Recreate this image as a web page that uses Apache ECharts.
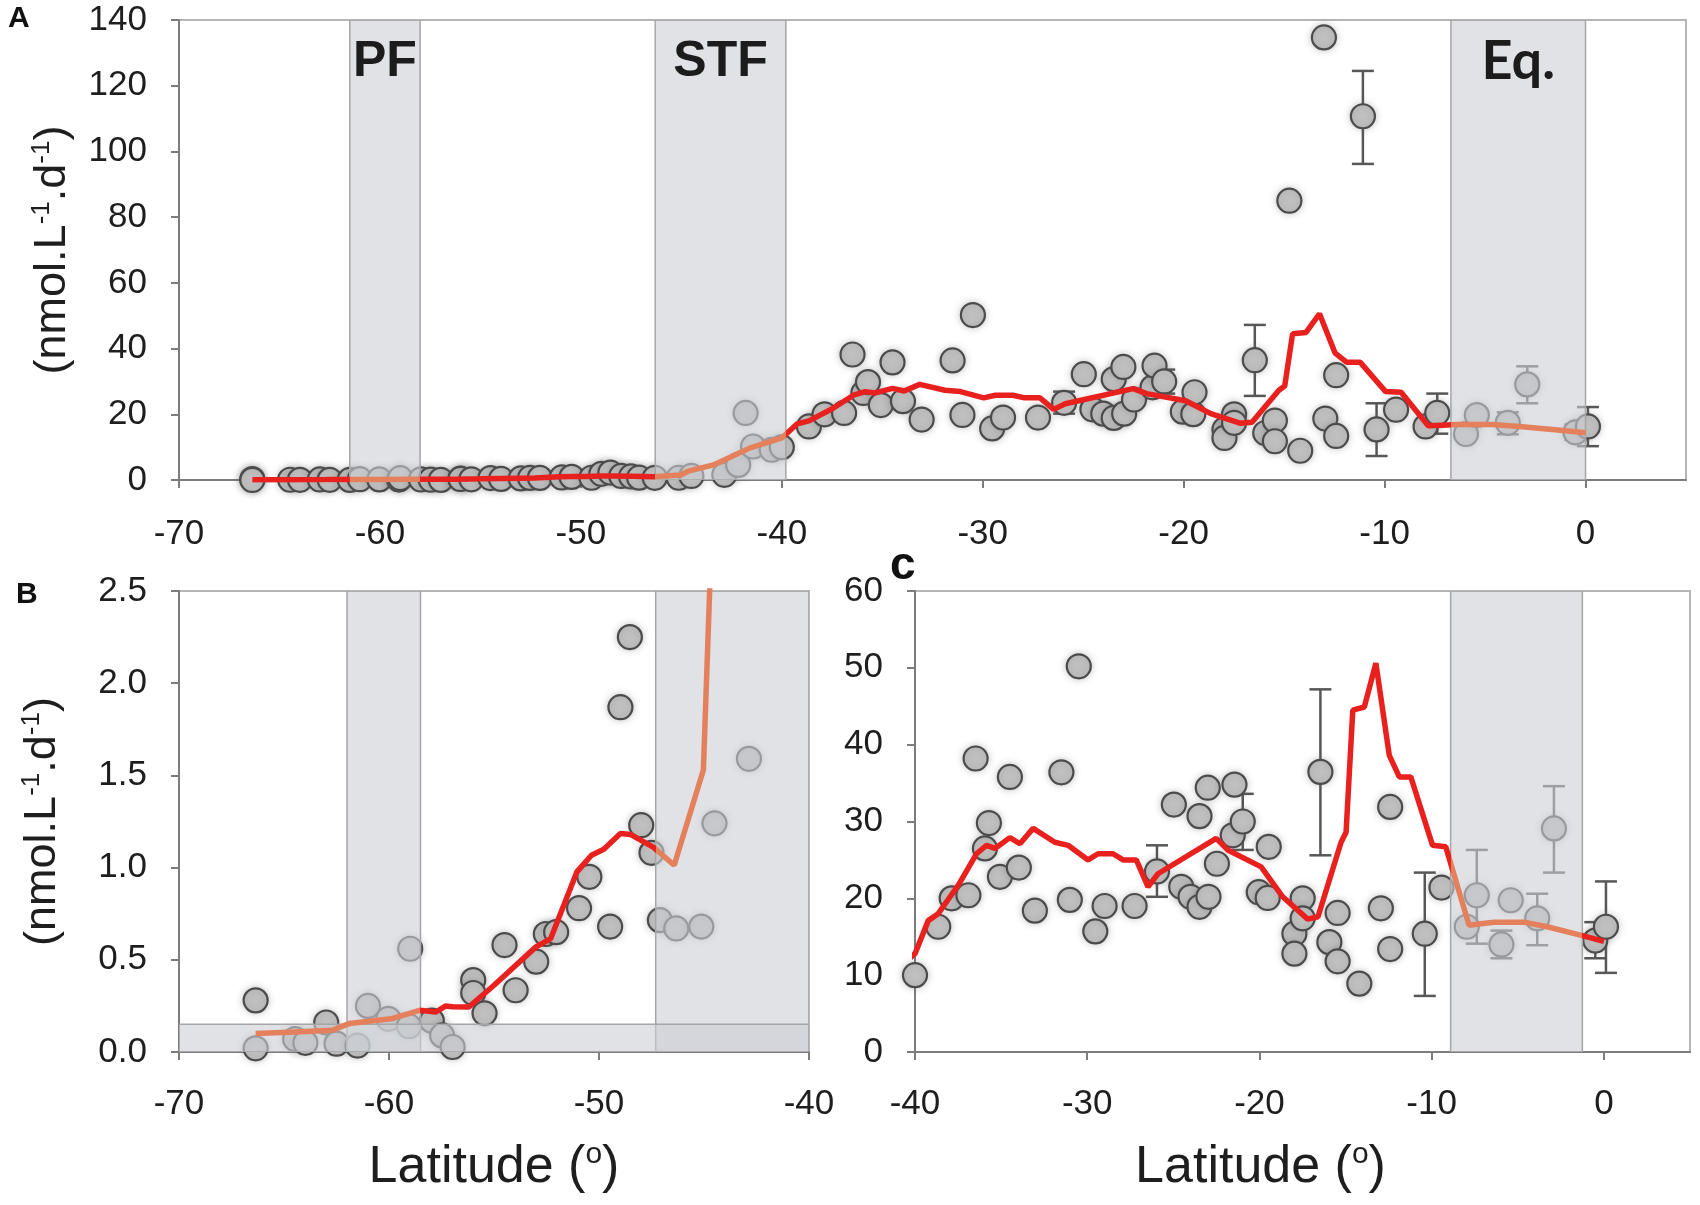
<!DOCTYPE html>
<html lang="en">
<head>
	<meta charset="utf-8">
	<title>Latitude profile</title>
	<script src="https://cdn.jsdelivr.net/npm/echarts@6/dist/echarts.min.js"></script>
	<style>
		html, body { margin: 0; padding: 0; background: #fff; }
		#chart { width: 1700px; height: 1205px; }
	</style>
</head>
<body>
<div id="chart"></div>
<script>
// measured rates (nmol.L-1.d-1) against latitude
var pointLat = [-66.35, -66.35, -64.47, -63.98, -62.99, -62.5, -61.5, -61.0, -60.03, -59.05,
	-58.99, -57.96, -57.47, -56.97, -55.99, -55.99, -55.45, -54.5, -53.97, -52.99,
	-52.53, -52.04, -50.95, -50.46, -49.47, -48.98, -48.53, -47.99, -47.5, -47.1,
	-46.32, -45.13, -44.5, -42.86, -42.17, -41.8, -41.43, -40.5, -40.0,
	-38.65, -37.87, -36.9, -36.48, -35.94, -35.71, -35.07, -34.49, -33.97, -33.04,
	-31.5, -31.01, -30.49, -29.53, -28.99, -27.25, -25.95, -24.97, -24.54, -24.0,
	-23.48, -23.48, -23.0, -22.96, -22.47, -21.55, -21.45, -20.97, -20.04, -19.52,
	-19.46, -17.97, -17.97, -17.49, -17.49, -16.46, -15.94, -15.46, -15.46, -14.74,
	-14.2, -13.02, -12.95, -12.41, -12.41, -11.08, -10.4, -9.43, -7.96, -7.38,
	-5.95, -5.41, -3.87, -2.9, -0.5, 0.12];
var pointRate = [0.28, 0.02, 0.07, 0.05, 0.16, 0.045, 0.035, 0.25, 0.18, 0.14,
	0.56, 0.17, 0.09, 0.027, 0.39, 0.32, 0.21, 0.58, 0.335, 0.49,
	0.64, 0.65, 0.78, 0.95, 0.68, 1.87, 2.25, 1.23, 1.08, 0.715,
	0.67, 0.68, 1.24, 1.59, 4.6, 20.4, 10.2, 9.2, 10.0,
	16.3, 20.0, 20.4, 38.2, 26.5, 29.8, 22.8, 35.8, 24.0, 18.4,
	36.4, 19.8, 50.2, 15.7, 19.0, 19.0, 23.5, 32.2, 21.5, 20.2,
	18.9, 30.7, 34.4, 20.2, 24.5, 28.2, 34.8, 30.0, 20.8, 20.05,
	26.7, 15.4, 12.8, 20.0, 17.4, 36.46, 14.3, 18.1, 11.8, 85.0,
	8.9, 134.7, 18.7, 31.9, 13.4, 110.7, 15.4, 21.4, 16.3, 20.4,
	14.0, 19.75, 17.4, 29.1, 14.5, 16.3];

// error bars
var errLat = [-25.95, -20.97, -16.46, -11.08, -10.4, -7.38, -5.95, -3.87, -2.9, -0.5, 0.12];
var errLow = [20.2, 26.3, 25.6, 96.2, 7.3, 14.1, 12.2, 13.9, 23.35, 12.2, 10.3];
var errHigh = [26.9, 33.6, 47.2, 124.5, 23.35, 26.3, 15.8, 20.6, 34.6, 16.9, 22.2];

// running mean
var meanLat = [-66.35, -64.5, -62.7, -61.9, -59.9, -58.55, -57.76, -57.3, -56.97, -56.2,
	-55.0, -53.0, -52.3, -51.05, -50.36, -49.77, -48.98, -48.5, -47.4, -46.42,
	-45.03, -44.7, -43.4, -41.6, -40.0, -39.23, -38.65, -37.49, -36.43, -35.85,
	-35.36, -34.49, -33.91, -33.14, -31.88, -31.11, -29.95, -29.37, -28.5, -27.92,
	-27.15, -26.47, -25.89, -22.51, -21.84, -19.9, -18.65, -17.2, -16.6, -15.26,
	-14.97, -14.58, -13.91, -13.24, -12.46, -11.88, -11.21, -9.95, -9.18, -7.83,
	-7.15, -6.38, -4.64, -3.29, -1.25, -1.16, 0.0];
var meanRate = [0.10, 0.108, 0.118, 0.154, 0.18, 0.226, 0.217, 0.25, 0.245, 0.244,
	0.362, 0.57, 0.615, 0.977, 1.067, 1.10, 1.185, 1.18, 1.11, 1.013,
	1.529, 2.6, 4.6, 9.7, 12.8, 17.1, 18.0, 21.7, 25.8, 26.9,
	26.5, 27.9, 27.1, 29.1, 27.3, 26.9, 25.0, 25.8, 25.8, 25.0,
	25.0, 21.5, 23.2, 27.8, 26.3, 24.1, 20.2, 17.3, 17.6, 27.3,
	28.6, 44.5, 44.9, 50.6, 38.6, 35.8, 35.8, 26.9, 26.7, 16.5,
	16.7, 16.9, 16.9, 16.3, 15.15, 15.1, 14.4];

// frontal zones [lat from, lat to, rate from, rate to]
var bandsA = [[-61.5, -58, 0, 140], [-46.3, -39.8, 0, 140], [-6.7, 0, 0, 140]];
var bandNamesA = ['PF', 'STF', 'Eq.'];
var bandsB = [[-62, -58.5, 0, 2.5], [-47.3, -40, 0, 2.5], [-70, -40, 0, 0.15]];
var bandsC = [[-8.9, -1.25, 0, 60]];

// where the mean line runs under a shaded zone
var shadeA = [[-61.5, -58], [-46.3, -39.8], [-6.7, 0]];
var shadeB = [[-70, -58.5], [-47.3, -40]];
var shadeC = [[-8.9, -1.25]];

// ticks
var latTicksA = [-70, -60, -50, -40, -30, -20, -10, 0];
var latTicksB = [-70, -60, -50, -40];
var latTicksC = [-40, -30, -20, -10, 0];
var rateTicksA = [0, 20, 40, 60, 80, 100, 120, 140];
var rateTicksB = [0, 0.5, 1.0, 1.5, 2.0, 2.5];
var rateTicksC = [0, 10, 20, 30, 40, 50, 60];

var RED = '#e8201e';
var SALMON = '#e4805c';
var FONT = 'Liberation Sans, Arial, sans-serif';

var chart = echarts.init(document.getElementById('chart'));

var points = pointLat.map(function (x, i) { return [x, pointRate[i]]; });
var errors = errLat.map(function (x, i) { return [x, errLow[i], errHigh[i]]; });
var mean = meanLat.map(function (x, i) { return [x, meanRate[i]]; });

function sections(ranges) {
	var pieces = [], prev = -1000;
	ranges.forEach(function (r) {
		pieces.push({ gt: prev, lte: r[0], color: RED });
		pieces.push({ gt: r[0], lte: r[1], color: SALMON });
		prev = r[1];
	});
	pieces.push({ gt: prev, lte: 1000, color: RED });
	return pieces;
}

function xAxisOf(grid, min, max, ticks, margin, name, namePad) {
	return {
		gridIndex: grid, type: 'value', min: min, max: max, interval: 10,
		axisLine: { show: true, onZero: false, lineStyle: { color: '#7c7c7c', width: 2 } },
		axisTick: { show: true, inside: false, length: 8, lineStyle: { color: '#7c7c7c', width: 2 }, customValues: ticks },
		axisLabel: { fontSize: 35, fontFamily: FONT, color: '#1e1e1e', margin: margin, customValues: ticks },
		splitLine: { show: false },
		name: name, nameLocation: 'middle', nameGap: 88,
		nameTextStyle: {
			fontSize: 52, fontFamily: FONT, color: '#1e1e1e', lineHeight: 56, padding: namePad,
			rich: { s: { fontSize: 30, fontFamily: FONT, color: '#1e1e1e', verticalAlign: 'top', lineHeight: 30 } }
		}
	};
}

function yAxisOf(grid, max, interval, ticks, digits, name, gap) {
	return {
		gridIndex: grid, type: 'value', min: 0, max: max, interval: interval,
		axisLine: { show: true, onZero: false, lineStyle: { color: '#7c7c7c', width: 2 } },
		axisTick: { show: true, inside: false, length: 8, lineStyle: { color: '#7c7c7c', width: 2 }, customValues: ticks },
		axisLabel: {
			fontSize: 35, fontFamily: FONT, color: '#1e1e1e', margin: 32, customValues: ticks,
			formatter: function (v) { return v.toFixed(digits); }
		},
		splitLine: { show: false },
		name: name, nameLocation: 'middle', nameRotate: 90, nameGap: gap,
		nameTextStyle: {
			fontSize: 45, fontFamily: FONT, color: '#1e1e1e', lineHeight: 48,
			rich: { s: { fontSize: 26, fontFamily: FONT, color: '#1e1e1e', verticalAlign: 'top', lineHeight: 26 } }
		}
	};
}

function bandRender(names) {
	return function (params, api) {
		var p0 = api.coord([api.value(0), api.value(3)]);
		var p1 = api.coord([api.value(1), api.value(2)]);
		var kids = [{
			type: 'rect',
			shape: { x: p0[0], y: p0[1], width: p1[0] - p0[0], height: p1[1] - p0[1] },
			style: { fill: 'rgba(204,206,211,0.6)', stroke: '#a6a6a6', lineWidth: 1.5 }
		}];
		var name = names ? names[params.dataIndex] : null;
		if (name) {
			kids.push({
				type: 'text', x: (p0[0] + p1[0]) / 2, y: p0[1] + 42,
				style: {
					text: name, fill: '#1c1c1c', align: 'center', verticalAlign: 'middle',
					font: name === 'Eq.' ? 'bold 54px Lato, sans-serif' : 'bold 50px ' + FONT
				}
			});
		}
		return { type: 'group', children: kids };
	};
}

function errorRender(params, api) {
	var top = api.coord([api.value(0), api.value(2)]);
	var bot = api.coord([api.value(0), api.value(1)]);
	var w = 11;
	var st = { stroke: '#575757', lineWidth: 2.5 };
	return {
		type: 'group', children: [
			{ type: 'line', shape: { x1: top[0], y1: top[1], x2: bot[0], y2: bot[1] }, style: st },
			{ type: 'line', shape: { x1: top[0] - w, y1: top[1], x2: top[0] + w, y2: top[1] }, style: st },
			{ type: 'line', shape: { x1: bot[0] - w, y1: bot[1], x2: bot[0] + w, y2: bot[1] }, style: st }
		]
	};
}

var panels = [
	{ bands: bandsA, names: bandNamesA, shade: shadeA },
	{ bands: bandsB, names: null, shade: shadeB },
	{ bands: bandsC, names: null, shade: shadeC }
];

var series = [];
var visualMap = [];
panels.forEach(function (p, k) {
	series.push({
		type: 'custom', xAxisIndex: k, yAxisIndex: k, z: 1, clip: true,
		renderItem: errorRender, data: errors, silent: true
	});
	series.push({
		type: 'scatter', xAxisIndex: k, yAxisIndex: k, z: 2, clip: true,
		symbol: 'circle', symbolSize: 24, data: points,
		itemStyle: {
			color: '#c0c0c0', borderColor: '#4b4b4b', borderWidth: 2.2, opacity: 1,
			shadowBlur: 7, shadowColor: 'rgba(110,110,110,0.35)'
		}
	});
	series.push({
		type: 'custom', xAxisIndex: k, yAxisIndex: k, z: 3, clip: true,
		renderItem: bandRender(p.names), data: p.bands, silent: true
	});
	series.push({
		type: 'line', xAxisIndex: k, yAxisIndex: k, z: 4, clip: true,
		data: mean, showSymbol: false, symbol: 'none',
		lineStyle: { width: 5.5 }
	});
	visualMap.push({
		type: 'piecewise', show: false, dimension: 0,
		seriesIndex: series.length - 1, pieces: sections(p.shade)
	});
});

var option = {
	backgroundColor: '#fff',
	animation: false,
	grid: [
		{ left: 179, top: 20, width: 1507, height: 460, show: true, borderColor: '#b5b5b5', borderWidth: 2 },
		{ left: 179, top: 591, width: 630, height: 461, show: true, borderColor: '#b5b5b5', borderWidth: 2 },
		{ left: 915, top: 591, width: 775, height: 461, show: true, borderColor: '#b5b5b5', borderWidth: 2 }
	],
	xAxis: [
		xAxisOf(0, -70, 5, latTicksA, 37, '', 0),
		xAxisOf(1, -70, -40, latTicksB, 35, 'Latitude ({s|o})', 0),
		xAxisOf(2, -40, 5, latTicksC, 35, 'Latitude ({s|o})', [0, 84, 0, 0])
	],
	yAxis: [
		yAxisOf(0, 140, 20, rateTicksA, 0, '(nmol.L{s|-1}.d{s|-1})', 102),
		yAxisOf(1, 2.5, 0.5, rateTicksB, 1, '(nmol.L{s|-1}.d{s|-1})', 112),
		yAxisOf(2, 60, 10, rateTicksC, 0, '', 50)
	],
	visualMap: visualMap,
	series: series,
	graphic: [
		{ type: 'text', left: 8, top: 4, style: { text: 'A', font: 'bold 30px ' + FONT, fill: '#111' } },
		{ type: 'text', left: 16, top: 580, style: { text: 'B', font: 'bold 30px ' + FONT, fill: '#111' } },
		{ type: 'text', left: 890, top: 543, style: { text: 'c', font: 'bold 46px ' + FONT, fill: '#111' } }
	]
};

chart.setOption(option);
</script>
</body>
</html>
